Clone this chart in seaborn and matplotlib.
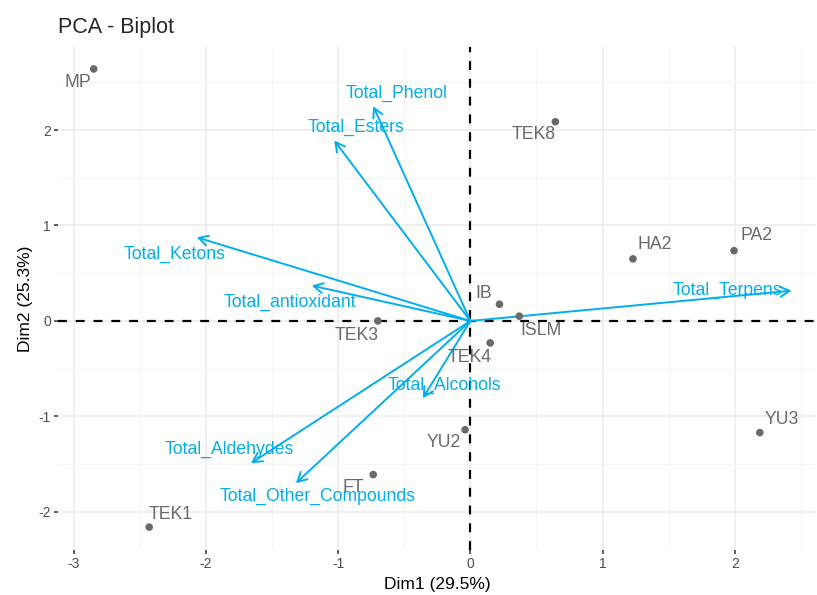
import matplotlib
matplotlib.use("Agg")
import matplotlib.pyplot as plt
import seaborn as sns
import pandas as pd

# individuals (PCA scores)
ind_names = ["MP", "TEK8", "HA2", "PA2", "IB", "ISLM", "TEK3", "TEK4", "YU3", "YU2", "FT", "TEK1"]
ind_x = [-2.85, 0.643, 1.23, 1.995, 0.22, 0.37, -0.70, 0.15, 2.19, -0.04, -0.735, -2.43]
ind_y = [2.64, 2.087, 0.65, 0.736, 0.175, 0.05, 0.0, -0.23, -1.17, -1.14, -1.61, -2.16]

# variables (loadings, scaled)
var_names = ["Total_Phenol", "Total_Esters", "Total_Ketons", "Total_antioxidant",
             "Total_Terpens", "Total_Alcohols", "Total_Aldehydes", "Total_Other_Compounds"]
var_x = [-0.735, -1.03, -2.07, -1.20, 2.43, -0.36, -1.66, -1.32]
var_y = [2.25, 1.89, 0.876, 0.37, 0.317, -0.81, -1.49, -1.70]

# label offsets in pixels (repel-like placement)
ind_off = {"MP": (-16, -14), "TEK8": (-22, -13), "HA2": (22, 14), "PA2": (22, 15),
           "IB": (-16, 11), "ISLM": (22, -14), "TEK3": (-21, -15), "TEK4": (-21, -15),
           "YU3": (22, 13), "YU2": (-21, -13), "FT": (-20, -13), "TEK1": (21, 13)}
var_off = {"Total_Phenol": (23, 13), "Total_Esters": (22, 13), "Total_Ketons": (-22, -17),
           "Total_antioxidant": (-22, -17), "Total_Terpens": (-64, 0), "Total_Alcohols": (22, 13),
           "Total_Aldehydes": (-22, 14), "Total_Other_Compounds": (22, -13)}

ind = pd.DataFrame({"name": ind_names, "x": ind_x, "y": ind_y})
var = pd.DataFrame({"name": var_names, "x": var_x, "y": var_y})

sns.set_theme(style="whitegrid")
plt.rcParams["font.family"] = ["Liberation Sans", "DejaVu Sans"]
plt.rcParams["axes.unicode_minus"] = False

col_ind = "#696969"
col_var = "#00AEEF"

fig = plt.figure(figsize=(8.17, 5.95), dpi=100)
ax = fig.add_axes([58 / 817, 45 / 595, (816 - 58) / 817, (550 - 47) / 595])
ax.set_facecolor("white")

ax.set_xlim(-3.12, 2.615)
ax.set_ylim(-2.40, 2.87)
ax.set_xticks([-3, -2, -1, 0, 1, 2])
ax.set_yticks([-2, -1, 0, 1, 2])
ax.set_xticks([-2.5, -1.5, -0.5, 0.5, 1.5, 2.5], minor=True)
ax.set_yticks([-1.5, -0.5, 0.5, 1.5, 2.5], minor=True)
ax.grid(True, which="major", color="#EBEBEB", linewidth=1.1)
ax.grid(True, which="minor", color="#F3F3F3", linewidth=0.6)
for s in ax.spines.values():
    s.set_visible(False)
ax.tick_params(axis="both", which="major", length=3, width=1.1, color="#333333",
               labelsize=10, labelcolor="#4D4D4D", pad=2, bottom=True, left=True)
ax.tick_params(axis="both", which="minor", length=0)

ax.axhline(0, color="black", linestyle=(0, (4, 4)), linewidth=1.6, zorder=2)
ax.axvline(0, color="black", linestyle=(0, (4, 4)), linewidth=1.6, zorder=2)

sns.scatterplot(data=ind, x="x", y="y", color=col_ind, s=30, edgecolor="none", ax=ax, zorder=4)
for _, r in ind.iterrows():
    dx, dy = ind_off[r["name"]]
    ax.annotate(r["name"], (r["x"], r["y"]), xytext=(dx, dy), textcoords="offset pixels",
                ha="center", va="center", color=col_ind, fontsize=12.7, zorder=5)

for _, r in var.iterrows():
    ax.annotate("", xy=(r["x"], r["y"]), xytext=(0, 0),
                arrowprops=dict(arrowstyle="->,head_length=0.55,head_width=0.3",
                                color=col_var, lw=1.4, shrinkA=0, shrinkB=0), zorder=3)
    dx, dy = var_off[r["name"]]
    ax.annotate(r["name"], (r["x"], r["y"]), xytext=(dx, dy), textcoords="offset pixels",
                ha="center", va="center", color=col_var, fontsize=12.7, zorder=5)

ax.set_xlabel("Dim1 (29.5%)", fontsize=12.5, color="black", labelpad=4)
ax.set_ylabel("Dim2 (25.3%)", fontsize=12.5, color="black", labelpad=4)
ax.set_title("PCA - Biplot", fontsize=15.5, loc="left", pad=10, x=0.0)

fig.savefig("out.png", dpi=100)
